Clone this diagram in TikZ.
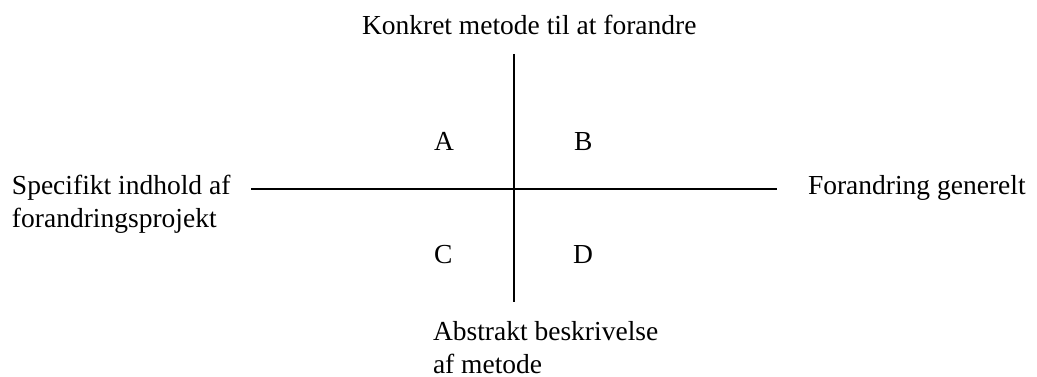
\documentclass[tikz,border=0pt]{standalone}
\usepackage{fontspec}
\setmainfont{Liberation Serif}
\begin{document}
\begin{tikzpicture}[x=1pt,y=-1pt,
  lbl/.style={inner sep=0pt,outer sep=0pt,anchor=base west,align=left,font=\fontsize{27.5}{33}\selectfont},
  axis/.style={line width=2pt,black}]
\useasboundingbox (0,0) rectangle (1037,377);
\node[lbl] (top) at (362,35) {Konkret metode til at forandre};
\node[lbl] (left) at (12,228) {Specifikt indhold af\\forandringsprojekt};
\node[lbl] (right) at (808,195) {Forandring generelt};
\node[lbl] (bottom) at (433,373) {Abstrakt beskrivelse\\af metode};
\node[lbl] (qa) at (434,151) {A};
\node[lbl] (qb) at (574,151) {B};
\node[lbl] (qc) at (434,263) {C};
\node[lbl] (qd) at (573,263) {D};
\coordinate (vt) at (514,54);
\coordinate (vb) at (514,302);
\coordinate (hl) at (251,189);
\coordinate (hr) at (777,189);
\draw[axis] (vt) -- (vb);
\draw[axis] (hl) -- (hr);
\end{tikzpicture}
\end{document}
